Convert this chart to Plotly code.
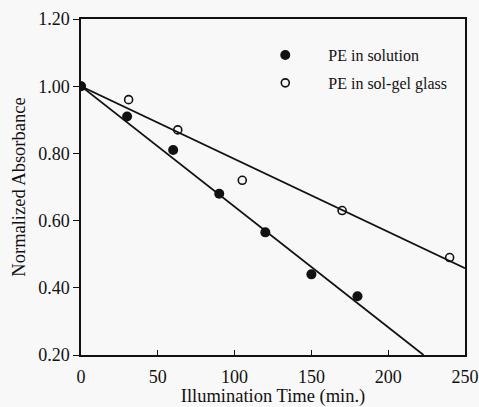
import plotly.graph_objects as go

# Data
t_solution = [0, 30, 60, 90, 120, 150, 180]
a_solution = [1.00, 0.91, 0.81, 0.68, 0.565, 0.44, 0.375]
t_glass = [0, 31, 63, 105, 170, 240]
a_glass = [1.00, 0.96, 0.87, 0.72, 0.63, 0.49]
fit_solution_t = [0, 223]
fit_solution_a = [1.00, 0.20]
fit_glass_t = [0, 250]
fit_glass_a = [1.00, 0.458]
x_ticks = [0, 50, 100, 150, 200, 250]
y_ticks = [0.20, 0.40, 0.60, 0.80, 1.00, 1.20]

FONT = "Liberation Serif"
fig = go.Figure()
fig.add_trace(go.Scatter(x=fit_solution_t, y=fit_solution_a, mode="lines",
                         line=dict(color="#111", width=1.8), showlegend=False, hoverinfo="skip"))
fig.add_trace(go.Scatter(x=fit_glass_t, y=fit_glass_a, mode="lines",
                         line=dict(color="#111", width=1.8), showlegend=False, hoverinfo="skip"))
fig.add_trace(go.Scatter(x=t_solution, y=a_solution, mode="markers", name="PE in solution",
                         legendgroup="a",
                         marker=dict(symbol="circle", size=10, color="#111", line=dict(width=0))))
fig.add_trace(go.Scatter(x=t_glass, y=a_glass, mode="markers", name="PE in sol-gel glass",
                         legendgroup="b",
                         marker=dict(symbol="circle-open", size=8, color="#111", line=dict(width=1.6))))

fig.update_layout(
    width=479, height=407,
    margin=dict(l=81, r=14, t=19, b=52, autoexpand=False),
    paper_bgcolor="#f8f8f8", plot_bgcolor="#f8f8f8",
    font=dict(family=FONT, size=18, color="#111"),
    legend=dict(x=0.42, y=0.943, xanchor="left", yanchor="top", bgcolor="rgba(0,0,0,0)",
                font=dict(size=16), itemwidth=76, traceorder="grouped", tracegroupgap=4),
    xaxis=dict(range=[0, 250], tickvals=x_ticks, ticktext=[str(v) for v in x_ticks],
               ticks="inside", ticklen=5, tickcolor="#111", showline=True, linecolor="#111",
               linewidth=1.5, mirror=True, showgrid=False, zeroline=False, automargin=False,
               ticklabelstandoff=5,
               title=dict(text="Illumination Time (min.)", font=dict(size=18.5), standoff=2)),
    yaxis=dict(range=[0.20, 1.20], tickvals=y_ticks, ticktext=[f"{v:.2f}" for v in y_ticks],
               ticks="outside", ticklen=6, tickcolor="#111", showline=True, linecolor="#111",
               linewidth=1.5, mirror=True, showgrid=False, zeroline=False, automargin=False,
               title=dict(text="Normalized Absorbance", font=dict(size=18.5), standoff=8)),
)
fig.write_html("out.html", config={"displayModeBar": False},
               post_script="document.body.style.margin='0';")
